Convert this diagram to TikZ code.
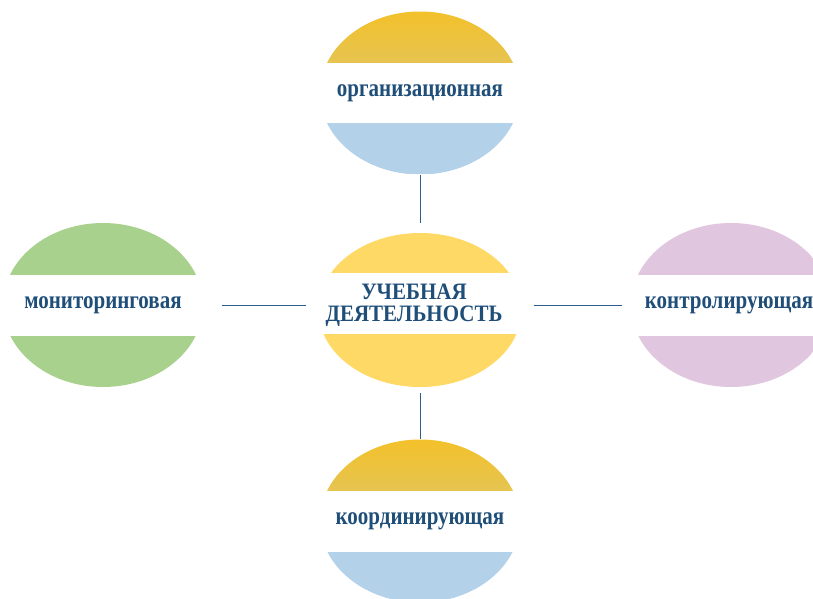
\documentclass[tikz,border=0pt]{standalone}
\usepackage{fontspec}
\setmainfont{Liberation Serif}
\usetikzlibrary{shapes.geometric}

\definecolor{goldtop}{HTML}{F3C12B}
\definecolor{goldlow}{HTML}{C8CAA2}
\definecolor{paleblue}{HTML}{B4D1EA}
\definecolor{sunyellow}{HTML}{FFD966}
\definecolor{leafgreen}{HTML}{A9D18E}
\definecolor{lilac}{HTML}{E0C6DE}
\definecolor{textblue}{HTML}{1F4E79}
\definecolor{lineblue}{HTML}{2F5E8C}

% stretched bold label
\newcommand{\tall}[1]{\scalebox{1}[1.2]{#1}}

\tikzset{
  band shift/.store in=\bandshift, band shift=0pt,
  bubble/.style={ellipse, inner sep=0pt, fill=white,
    minimum width=200pt, minimum height=163pt},
  halves/.style 2 args={path picture={
      \path[#1] ([yshift=30.5pt+\bandshift]path picture bounding box.west) rectangle (path picture bounding box.north east);
      \path[#2] (path picture bounding box.south west) rectangle ([yshift=-30.5pt+\bandshift]path picture bounding box.east);
  }},
  tag/.style={inner sep=0pt, font=\bfseries\fontsize{21}{22}\selectfont,
    text=textblue, align=center},
  link/.style={draw=lineblue, line width=1pt}
}

\begin{document}
\begin{tikzpicture}[x=1pt,y=1pt]
    \useasboundingbox (0,0) rectangle (813,598);
    \clip (0,0) rectangle (813,598);

    % centre
    \node[bubble, minimum width=203pt, minimum height=154pt, band shift=6.5pt,
          halves={fill=sunyellow}{fill=sunyellow}] (uch) at (420,288) {};
    \node[tag] (uch-t) at (414,293) {\scalebox{1}[1.12]{УЧЕБНАЯ}\\\scalebox{1}[1.12]{ДЕЯТЕЛЬНОСТЬ}};

    % top and bottom
    \node[bubble, halves={top color=goldtop, bottom color=goldlow}{fill=paleblue}] (org) at (420,505) {};
    \node[tag] (org-t) at (org) {\tall{организационная}};
    \node[bubble, halves={top color=goldtop, bottom color=goldlow}{fill=paleblue}] (koord) at (420,77) {};
    \node[tag] (koord-t) at (koord) {\tall{координирующая}};

    % left and right
    \node[bubble, minimum height=164pt, halves={fill=leafgreen}{fill=leafgreen}] (mon) at (103,293) {};
    \node[tag] (mon-t) at (mon) {\tall{мониторинговая}};
    \node[bubble, minimum height=164pt, halves={fill=lilac}{fill=lilac}] (kontr) at (731,293) {};
    \node[tag] (kontr-t) at (729,293) {\tall{контролирующая}};

    % connectors
    \draw[link, shorten >=10pt] (org) -- (uch);
    \draw[link, shorten <=6pt] (uch) -- (koord);
    \draw[link, shorten <=19pt, shorten >=12pt] (mon.east) -- (mon.east -| uch.west);
    \draw[link, shorten <=12pt, shorten >=9pt] (kontr.west -| uch.east) -- (kontr.west);

\end{tikzpicture}
\end{document}
